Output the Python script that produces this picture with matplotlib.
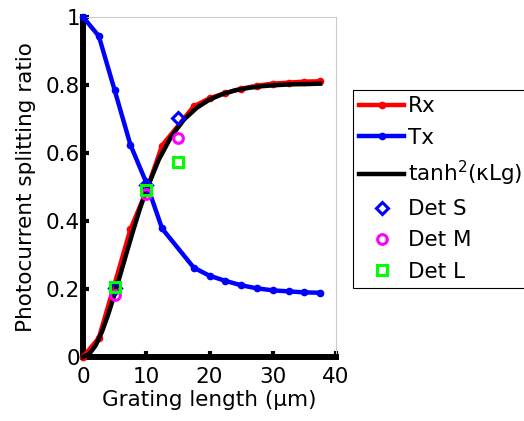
import matplotlib
matplotlib.use("Agg")
import matplotlib.pyplot as plt

# ---- data ----
L_meas = [0, 2.5, 5, 7.5, 10, 12.5, 17.5, 20, 22.5, 25, 27.5, 30, 32.5, 35, 37.5]
Tx = [1.0, 0.944, 0.785, 0.624, 0.513, 0.378, 0.263, 0.239, 0.224, 0.211, 0.202, 0.196, 0.193, 0.190, 0.189]
Rx = [0.0, 0.056, 0.215, 0.376, 0.487, 0.622, 0.737, 0.761, 0.776, 0.789, 0.798, 0.804, 0.807, 0.810, 0.811]

L_fit = [0, 1, 2, 3, 4, 5, 6, 7, 8, 9, 10, 12, 14, 16, 18, 20, 22, 24, 26, 28, 30, 33, 36, 37.5]
fit = [0.0, 0.009, 0.034, 0.074, 0.126, 0.185, 0.249, 0.313, 0.376, 0.436, 0.490, 0.581, 0.650,
       0.699, 0.733, 0.757, 0.773, 0.784, 0.791, 0.796, 0.799, 0.802, 0.803, 0.804]

L_det = [5, 10, 15]
det_S = [0.204, 0.506, 0.702]
det_M = [0.182, 0.478, 0.643]
det_L = [0.207, 0.492, 0.574]

xticks = [0, 10, 20, 30, 40]
yticks = [0, 0.2, 0.4, 0.6, 0.8, 1.0]
ytick_labels = ["0", "0.2", "0.4", "0.6", "0.8", "1"]

plt.rcParams['font.family'] = ['DejaVu Sans']
plt.rcParams['mathtext.fontset'] = 'dejavusans'
FS = 15.5

fig = plt.figure(figsize=(5.24, 4.21), dpi=100)
ax = fig.add_axes([83/524, 1-357/421, (336-83)/524, (357-17)/421])

lw = 3.2
ax.plot(L_meas, Rx, '-', color='#ff0000', lw=lw, marker='o', ms=4.5, clip_on=False, zorder=3, label='Rx')
ax.plot(L_meas, Tx, '-', color='#0000ff', lw=lw, marker='o', ms=4.5, clip_on=False, zorder=3, label='Tx')
ax.plot(L_fit, fit, '-', color='black', lw=lw, clip_on=False, zorder=4, label=r'tanh$^{2}$(κLg)')
ax.plot(L_det, det_S, linestyle='none', marker='D', ms=6.5, mfc='none', mec='#0000ff', mew=2.2,
        clip_on=False, zorder=5, label='Det S')
ax.plot(L_det, det_M, linestyle='none', marker='o', ms=7, mfc='none', mec='#ff00ff', mew=2.2,
        clip_on=False, zorder=5, label='Det M')
ax.plot(L_det, det_L, linestyle='none', marker='s', ms=6.5, mfc='none', mec='#00ff00', mew=2.2,
        clip_on=False, zorder=5, label='Det L')

ax.set_xlim(0, 40)
ax.set_ylim(0, 1)
ax.set_xticks(xticks)
ax.set_xticklabels([str(t) for t in xticks], fontsize=FS)
ax.set_yticks(yticks)
ax.set_yticklabels(ytick_labels, fontsize=FS)
ax.tick_params(direction='in', length=4.5, width=3, color='black')
ax.tick_params(axis='x', pad=7)
ax.tick_params(axis='y', pad=2)

for s in ['left', 'bottom']:
    ax.spines[s].set_linewidth(4.3)
    ax.spines[s].set_color('black')
    ax.spines[s].set_capstyle('projecting')
for s in ['top', 'right']:
    ax.spines[s].set_linewidth(0.8)
    ax.spines[s].set_color('#cccccc')

ax.set_xlabel('Grating length (μm)', fontsize=FS, labelpad=2)
ax.set_ylabel('Photocurrent splitting ratio', fontsize=FS, labelpad=7)

leg = fig.legend(loc='upper left', bbox_to_anchor=(353/524, 1-90/421), bbox_transform=fig.transFigure,
                 fontsize=FS, frameon=True, fancybox=False, edgecolor='black', framealpha=1,
                 borderpad=0.3, borderaxespad=0, handlelength=2.05, handletextpad=0.2,
                 labelspacing=0.52, numpoints=1)
leg.get_frame().set_linewidth(0.8)

fig.savefig('out.png', dpi=100)
